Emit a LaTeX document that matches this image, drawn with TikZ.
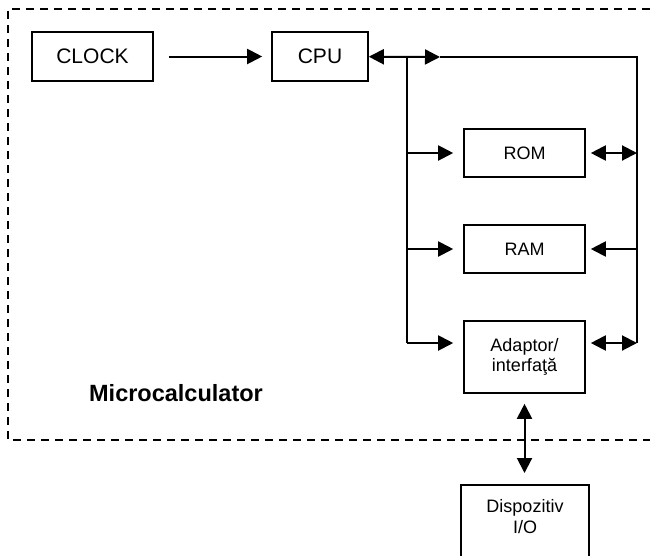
\documentclass[tikz,border=0pt]{standalone}
\usepackage{fontspec}
\setmainfont{Liberation Sans}
\usetikzlibrary{positioning}
\usetikzlibrary{arrows.meta}

\begin{document}
\begin{tikzpicture}[x=1pt,y=-1pt]
\path[use as bounding box,clip] (0,0) rectangle (650,555);

% border of the microcalculator
\draw[line width=2,dash pattern=on 8pt off 6pt] (650,9) -- (8,9) -- (8,440) -- (650,440);
\node[inner sep=0,font={\fontsize{23.5}{27}\selectfont\bfseries}] (micro) at (176,393) {Microcalculator};

\begin{scope}[every node/.style={draw,line width=1.6,inner sep=0,align=center,font={\fontsize{18}{20}\selectfont}}]
    \node [minimum width=121,minimum height=49,font={\fontsize{21}{24}\selectfont}] (CLOCK) at (92.5,56.5) {CLOCK};
    \node [minimum width=96,minimum height=49,font={\fontsize{21}{24}\selectfont}] (CPU) at (320,56.5) {CPU};

    \node [minimum width=121,minimum height=48] (ROM) at (524.5,153) {ROM};
    \node [minimum width=121,minimum height=48] (RAM) at (524.5,249) {RAM};
    \node [minimum width=121,minimum height=72] (ADAPT) at (524.5,357) {Adaptor/\\interfaţă};

    \node [minimum width=128,minimum height=90,anchor=north,
           label={[draw=none,anchor=north,yshift=-15pt,font={\fontsize{18}{21}\selectfont}]north:Dispozitiv\\I/O}] (IO) at (525,484) {};
\end{scope}

% bus lines
\coordinate (busT) at (440,57);
\coordinate (busL) at (407,57);
\coordinate (busR) at (637,57);
\coordinate (busLb) at (407,343);
\coordinate (busRb) at (637,343);

\begin{scope}[>={Triangle[length=15pt,width=15pt]},line width=2]
     \draw [->,shorten <=15pt,shorten >=9pt] (CLOCK) -- (CPU);
     \draw [<->] (CPU) -- (busT);
     \draw (busT) -- (busR) -- (busRb);
     \draw (busL) -- (busLb);

     \draw [->,shorten >=10pt] (busL |- ROM) -- (ROM);
     \draw [->,shorten >=10pt] (busL |- RAM) -- (RAM);
     \draw [->,shorten >=10pt] (busLb) -- (ADAPT.west |- busLb);

     \draw [<->,shorten <=5pt] (ROM) -- (busR |- ROM);
     \draw [<-,shorten <=5pt] (RAM) -- (busR |- RAM);
     \draw [<->,shorten <=5pt] (ADAPT.east |- busRb) -- (busRb);

     \draw [<->,shorten <=10pt,shorten >=11pt] (ADAPT.south) -- (ADAPT.south |- IO.north);
\end{scope}
\end{tikzpicture}
\end{document}
